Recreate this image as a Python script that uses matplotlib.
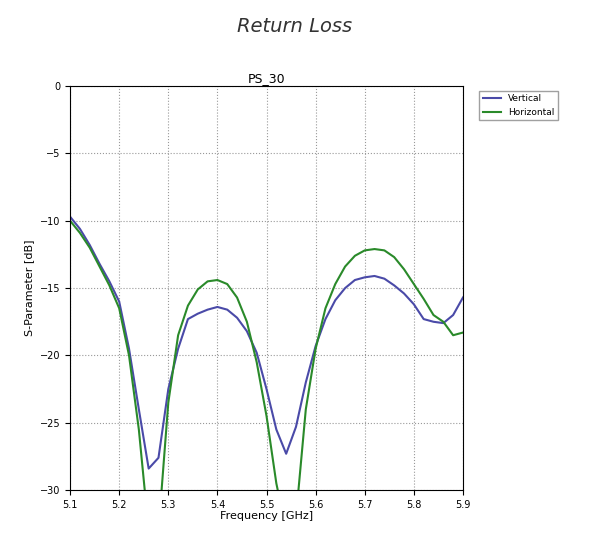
import matplotlib
matplotlib.use("Agg")
import matplotlib.pyplot as plt
import numpy as np

freq = [5.10, 5.12, 5.14, 5.16, 5.18, 5.20, 5.22, 5.24, 5.26, 5.28,
        5.30, 5.32, 5.34, 5.36, 5.38, 5.40, 5.42, 5.44, 5.46, 5.48,
        5.50, 5.52, 5.54, 5.56, 5.58, 5.60, 5.62, 5.64, 5.66, 5.68,
        5.70, 5.72, 5.74, 5.76, 5.78, 5.80, 5.82, 5.84, 5.86, 5.88, 5.90]
vertical = [-9.7, -10.6, -11.8, -13.2, -14.5, -16.0, -19.5, -24.0, -28.4, -27.6,
            -22.5, -19.5, -17.3, -16.9, -16.6, -16.4, -16.6, -17.2, -18.2, -19.8,
            -22.5, -25.5, -27.3, -25.3, -22.0, -19.3, -17.3, -15.9, -15.0, -14.4,
            -14.2, -14.1, -14.3, -14.8, -15.4, -16.2, -17.3, -17.5, -17.6, -17.0, -15.7]
horizontal = [-10.0, -10.9, -12.0, -13.4, -14.8, -16.5, -20.0, -25.5, -33.0, -33.0,
              -23.5, -18.5, -16.3, -15.1, -14.5, -14.4, -14.7, -15.7, -17.5, -20.5,
              -24.5, -29.5, -33.0, -32.0, -24.0, -19.5, -16.5, -14.7, -13.4, -12.6,
              -12.2, -12.1, -12.2, -12.7, -13.6, -14.7, -15.8, -17.0, -17.5, -18.5, -18.3]

fig = plt.figure(figsize=(5.89, 5.38), dpi=100)
fig.text(0.5, 0.94, "Return Loss", ha="center", fontsize=14, style="italic", color="#333333")
ax = fig.add_axes([0.119, 0.089, 0.667, 0.751])
ax.plot(freq, vertical, color="#4a4aa8", lw=1.5, label="Vertical")
ax.plot(freq, horizontal, color="#2a8a2a", lw=1.5, label="Horizontal")
ax.set_xlim(5.1, 5.9)
ax.set_ylim(-30, 0)
ax.set_xticks(np.arange(5.1, 5.91, 0.1))
ax.set_yticks(range(-30, 1, 5))
ax.grid(True, ls=":", color="#999999")
ax.tick_params(labelsize=7)
ax.set_title("PS_30", fontsize=9, pad=3)
ax.set_xlabel("Frequency [GHz]", fontsize=8, labelpad=1)
ax.set_ylabel("S-Parameter [dB]", fontsize=8)
ax.legend(loc="upper left", bbox_to_anchor=(1.03, 1.0), fontsize=6.5, frameon=True,
          fancybox=False, edgecolor="#888888")
fig.savefig("out.png", dpi=100)
